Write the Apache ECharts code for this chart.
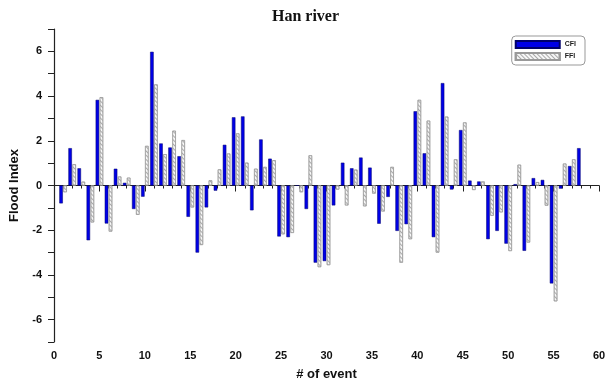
<!DOCTYPE html>
<html>
<head>
<meta charset="utf-8">
<script src="https://cdn.jsdelivr.net/npm/echarts@6/dist/echarts.min.js"></script>
<style>html,body{margin:0;padding:0;background:#fff}#c{width:611px;height:389px}</style>
</head>
<body>
<div id="c"></div>
<script>
const events = [];
for (let i = 1; i <= 58; i++) events.push(i);
const cfi = [-0.8, 1.67, 0.77, -2.45, 3.83, -1.7, 0.75, 0.12, -1.05, -0.5,
  5.98, 1.88, 1.7, 1.31, -1.4, -3.0, -0.98, -0.23, 1.82, 3.05,
  3.09, -1.11, 2.06, 1.2, -2.28, -2.31, 0.0, -1.05, -3.45, -3.38,
  -0.89, 1.02, 0.77, 1.25, 0.8, -1.71, -0.51, -2.03, -1.73, 3.32,
  1.44, -2.31, 4.58, -0.18, 2.48, 0.22, 0.18, -2.4, -2.03, -2.6,
  0.06, -2.92, 0.33, 0.25, -4.38, -0.14, 0.87, 1.67];
const ffi = [-0.3, 0.95, 0.17, -1.65, 3.95, -2.06, 0.4, 0.35, -1.31, 1.77,
  4.52, 1.4, 2.45, 2.03, -0.98, -2.66, 0.23, 0.72, 1.43, 2.33,
  1.02, 0.75, 0.83, 1.13, -2.18, -2.12, -0.3, 1.35, -3.65, -3.56,
  -0.18, -0.89, 0.71, -0.93, -0.36, -1.16, 0.83, -3.45, -2.4, 3.83,
  2.9, -3.0, 3.08, 1.17, 2.82, -0.2, 0.18, -1.35, -1.2, -2.93,
  0.93, -2.55, 0.15, -0.9, -5.18, 0.98, 1.17, null];
const seriesNames = ['CFI', 'FFI'];
const yLabels = [-6, -4, -2, 0, 2, 4, 6];

const chart = echarts.init(document.getElementById('c'));
const lbl = {fontFamily: 'Liberation Sans', fontWeight: 'bold', fontSize: 11, color: '#111'};
chart.setOption({
  animation: false,
  title: {text: 'Han river', left: 'center', top: 4,
    textStyle: {fontFamily: 'Liberation Serif', fontWeight: 'bold', fontSize: 16, color: '#111'}},
  legend: {
    data: seriesNames.map(n => ({name: n, icon: 'rect'})), orient: 'vertical', right: 26, top: 36,
    itemWidth: 44, itemHeight: 7, itemGap: 3, padding: [4, 9, 4, 3],
    borderColor: '#999', borderWidth: 1, borderRadius: 4,
    textStyle: {fontFamily: 'Liberation Sans', fontWeight: 'bold', fontSize: 7, color: '#222'}
  },
  grid: {left: 54, right: 12, top: 29, bottom: 47},
  xAxis: {
    type: 'value', min: 0, max: 60, interval: 5,
    name: '# of event', nameLocation: 'middle', nameGap: 26,
    nameTextStyle: {fontFamily: 'Liberation Sans', fontWeight: 'bold', fontSize: 13, color: '#111'},
    axisLine: {show: true, lineStyle: {color: '#222', width: 1.2}},
    axisTick: {show: true, length: 6, lineStyle: {color: '#222'}},
    minorTick: {show: true, splitNumber: 5, length: 3, lineStyle: {color: '#222'}},
    splitLine: {show: false},
    axisLabel: Object.assign({margin: 8}, lbl)
  },
  yAxis: {
    type: 'value', min: -7, max: 7, interval: 1,
    name: 'Flood Index', nameLocation: 'middle', nameGap: 30, nameRotate: 90,
    nameTextStyle: {fontFamily: 'Liberation Sans', fontWeight: 'bold', fontSize: 13, color: '#111'},
    axisLine: {show: true, lineStyle: {color: '#222', width: 1.2}},
    axisTick: {show: true, length: 6, lineStyle: {color: '#222'}},
    splitLine: {show: false},
    axisLabel: Object.assign({margin: 12, formatter: v => yLabels.indexOf(v) >= 0 ? String(v) : ''}, lbl)
  },
  series: [
    {name: seriesNames[0], type: 'bar', barWidth: 3.5, barGap: '15%',
     data: events.map((e, i) => [e, cfi[i]]),
     itemStyle: {color: '#0000e6', borderColor: '#00006a', borderWidth: 0.5}},
    {name: seriesNames[1], type: 'bar', barWidth: 3.5, barGap: '15%',
     data: events.map((e, i) => [e, ffi[i]]).filter(d => d[1] !== null),
     itemStyle: {color: '#f8f8f8', borderColor: '#999', borderWidth: 0.6,
       decal: {symbol: 'rect', symbolSize: 1, dashArrayX: [1, 0], dashArrayY: [1, 2], rotation: Math.PI / 4, color: '#aaa'}}}
  ]
});
</script>
</body>
</html>
